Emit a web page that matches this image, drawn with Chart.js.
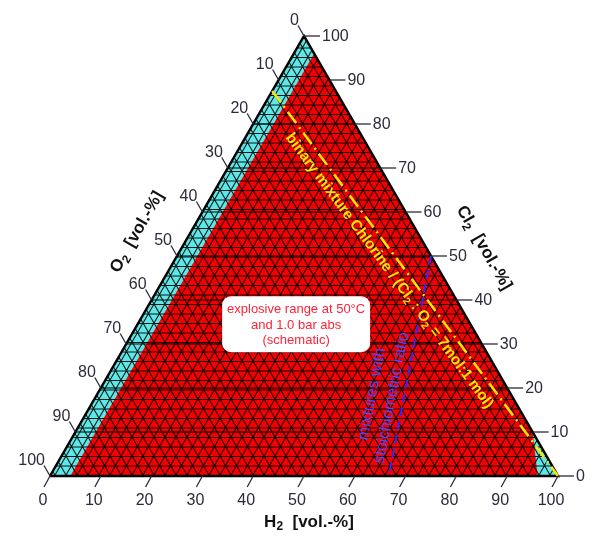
<!DOCTYPE html>
<html>
<head>
<meta charset="utf-8">
<script src="https://cdn.jsdelivr.net/npm/chart.js@4"></script>
<style>
  body { margin: 0; background: #fff; }
  canvas { display: block; }
</style>
</head>
<body>
<canvas id="ternary" width="599" height="541"></canvas>
<script>
// ternary values are given as [H2, Cl2] in vol.-%, O2 is the rest
const tickValues = [0, 10, 20, 30, 40, 50, 60, 70, 80, 90, 100];
const gridCl2 = [10, 20, 30, 40, 50, 60, 70, 80];

const outerH2 = [0, 100, 0, 0];
const outerCl2 = [0, 0, 100, 0];

const explosiveH2 = [4, 4, 90, 96, 4];
const explosiveCl2 = [0, 96, 10, 0, 0];

const binaryH2 = [0, 100];
const binaryCl2 = [87.5, 0];

const stoichH2 = [50, 66.7];
const stoichCl2 = [50, 0];

const boxLines = ['explosive range at 50°C', 'and 1.0 bar abs', '(schematic)'];
const boxAt = [31.2, 34.5];
const binaryTextAt = [43.5, 46.6];
const stoichTextAt = [56.2, 18.2];

const FONT = '"Liberation Sans", Arial, sans-serif';
const S3 = Math.sqrt(3) / 2;

const toXY = (h, c) => ({ x: h + c / 2, y: c * S3 });
const points = (hs, cs) => hs.map((h, i) => toXY(h, cs[i]));

const makePattern = bg => {
  const w = 11, h = 19;
  const c = document.createElement('canvas');
  c.width = w; c.height = h;
  const g = c.getContext('2d');
  g.fillStyle = bg;
  g.fillRect(0, 0, w, h);
  g.strokeStyle = 'rgba(0,0,0,0.9)';
  g.lineWidth = 1.1;
  g.beginPath();
  [-w, 0, w].forEach(dx => {
    [-h, 0, h].forEach(dy => {
      g.moveTo(dx, dy + 0.5); g.lineTo(dx + w, dy + 0.5);
      g.moveTo(dx, dy + 10); g.lineTo(dx + w, dy + 10);
      g.moveTo(dx, dy); g.lineTo(dx + w, dy + h);
      g.moveTo(dx + w, dy); g.lineTo(dx, dy + h);
    });
  });
  g.stroke();
  return g.createPattern(c, 'repeat');
};

const drawRich = (ctx, parts, x, y, angle, size, weight, color) => {
  ctx.save();
  ctx.translate(x, y);
  ctx.rotate(angle);
  ctx.fillStyle = color;
  ctx.textBaseline = 'middle';
  ctx.textAlign = 'left';
  const big = `${weight} ${size}px ${FONT}`;
  const small = `${weight} ${Math.round(size * 0.68)}px ${FONT}`;
  let w = 0;
  parts.forEach(p => { ctx.font = p.sub ? small : big; w += ctx.measureText(p.t).width; });
  let cx = -w / 2;
  parts.forEach(p => {
    ctx.font = p.sub ? small : big;
    ctx.fillText(p.t, cx, p.sub ? size * 0.3 : 0);
    cx += ctx.measureText(p.t).width;
  });
  ctx.restore();
};

const ternaryAxes = {
  id: 'ternaryAxes',
  afterDatasetsDraw(chart) {
    const { ctx, scales: { x, y } } = chart;
    const pix = (h, c) => {
      const p = toXY(h, c);
      return { x: x.getPixelForValue(p.x), y: y.getPixelForValue(p.y) };
    };
    const tickColor = '#2b2b3b';
    ctx.save();
    ctx.strokeStyle = tickColor;
    ctx.fillStyle = tickColor;
    ctx.lineWidth = 1.3;
    ctx.font = `16px ${FONT}`;

    tickValues.forEach(v => {
      // H2 (bottom)
      let p = pix(v, 0);
      ctx.beginPath();
      ctx.moveTo(p.x, p.y);
      ctx.lineTo(p.x - 6, p.y + 11);
      ctx.stroke();
      ctx.textAlign = 'center';
      ctx.textBaseline = 'middle';
      ctx.fillText(String(v), p.x - 7, p.y + 25);

      // Cl2 (right)
      p = pix(100 - v, v);
      ctx.beginPath();
      ctx.moveTo(p.x, p.y);
      ctx.lineTo(p.x + 16, p.y);
      ctx.stroke();
      ctx.textAlign = 'left';
      ctx.fillText(String(v), p.x + 18, p.y + 1);

      // O2 (left)
      p = pix(0, 100 - v);
      ctx.beginPath();
      ctx.moveTo(p.x, p.y);
      ctx.lineTo(p.x - 6, p.y - 10.5);
      ctx.stroke();
      ctx.textAlign = 'right';
      ctx.fillText(String(v), p.x - 5, p.y - 15);
    });

    // axis titles
    const titleParts = name => [{ t: name }, { t: '2', sub: true }, { t: '  [vol.-%]' }];
    let p = pix(50, 0);
    drawRich(ctx, titleParts('H'), p.x + 5, p.y + 46, 0, 17, 'bold', '#111');
    p = pix(0, 50);
    drawRich(ctx, titleParts('O'), p.x - 40, p.y - 24, -Math.PI / 3, 17, 'bold', '#111');
    p = pix(50, 50);
    drawRich(ctx, titleParts('Cl'), p.x + 53, p.y - 8, Math.PI / 3, 17, 'bold', '#111');

    // box with the explosive range note
    const b = pix(boxAt[0], boxAt[1]);
    ctx.fillStyle = '#fff';
    ctx.beginPath();
    ctx.roundRect(b.x - 74, b.y - 28, 148, 56, 9);
    ctx.fill();
    ctx.fillStyle = '#ff2238';
    ctx.font = `13px ${FONT}`;
    ctx.textAlign = 'center';
    ctx.textBaseline = 'middle';
    [-14.5, 1, 16.5].forEach((dy, i) => ctx.fillText(boxLines[i], b.x, b.y + dy));

    // text along the binary mixture line
    const y1 = pix(binaryH2[0], binaryCl2[0]);
    const y2 = pix(binaryH2[1], binaryCl2[1]);
    const yAngle = Math.atan2(y2.y - y1.y, y2.x - y1.x);
    const yt = pix(binaryTextAt[0], binaryTextAt[1]);
    drawRich(ctx, [
      { t: 'binary mixture Chlorine / (Cl' }, { t: '2', sub: true },
      { t: ' : O' }, { t: '2', sub: true }, { t: ' = 7mol:1 mol)' }
    ], yt.x, yt.y, yAngle, 15, 'bold', '#ffe600');

    // text along the stoichiometric line
    const s1 = pix(stoichH2[0], stoichCl2[0]);
    const s2 = pix(stoichH2[1], stoichCl2[1]);
    const sAngle = Math.atan2(s2.y - s1.y, s2.x - s1.x) - Math.PI;
    const st = pix(stoichTextAt[0], stoichTextAt[1]);
    const nx = -Math.sin(sAngle), ny = Math.cos(sAngle);
    drawRich(ctx, [{ t: 'mixtures with' }], st.x - 10 * nx, st.y - 10 * ny, sAngle, 16, 'normal', '#4a4aff');
    drawRich(ctx, [{ t: 'stoichiometric ratio' }], st.x + 10 * nx, st.y + 10 * ny, sAngle, 16, 'normal', '#4a4aff');

    ctx.restore();
  }
};

const lineSet = (data, extra) => Object.assign({
  data,
  showLine: true,
  pointRadius: 0,
  tension: 0,
  fill: false,
  clip: false
}, extra);

const datasets = [
  lineSet(points(outerH2, outerCl2), {
    fill: 'shape', backgroundColor: makePattern('#5fe6e6'), borderWidth: 0, borderColor: 'rgba(0,0,0,0)', order: 10
  }),
  lineSet(points(explosiveH2, explosiveCl2), {
    fill: 'shape', backgroundColor: makePattern('#f40000'), borderWidth: 0, borderColor: 'rgba(0,0,0,0)', order: 9
  })
];

gridCl2.forEach(c => {
  datasets.push(lineSet(points([0, 100 - c], [c, c]), { borderColor: '#000', borderWidth: 1.2, order: 8 }));
});

datasets.push(lineSet(points(outerH2, outerCl2), { borderColor: '#000', borderWidth: 2.5, order: 5 }));
datasets.push(lineSet(points(binaryH2, binaryCl2), {
  borderColor: '#ffe600', borderWidth: 2.5, borderDash: [14, 5, 2, 5], order: 3
}));
datasets.push(lineSet(points(stoichH2, stoichCl2), {
  borderColor: '#2a2aff', borderWidth: 2, borderDash: [9, 5], order: 2
}));

new Chart(document.getElementById('ternary').getContext('2d'), {
  type: 'scatter',
  data: { datasets },
  options: {
    responsive: false,
    animation: false,
    layout: { padding: { left: 50, right: 41, top: 36, bottom: 65 } },
    scales: {
      x: { type: 'linear', min: 0, max: 100, display: false },
      y: { type: 'linear', min: 0, max: 100 * S3, display: false }
    },
    plugins: { legend: { display: false }, tooltip: { enabled: false } }
  },
  plugins: [ternaryAxes]
});
</script>
</body>
</html>
